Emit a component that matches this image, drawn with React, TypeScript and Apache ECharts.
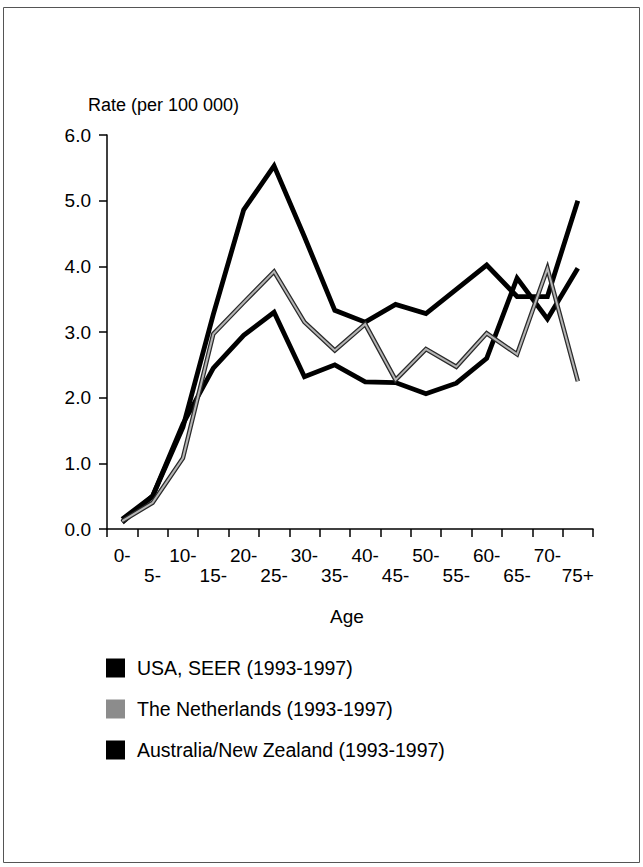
import React, { useEffect, useRef } from "react";
import * as echarts from "echarts";

const ageGroups = ["0-", "5-", "10-", "15-", "20-", "25-", "30-", "35-", "40-", "45-", "50-", "55-", "60-", "65-", "70-", "75+"];
const usaSeer = [0.15, 0.5, 1.55, 3.27, 4.86, 5.53, 4.45, 3.33, 3.15, 3.42, 3.28, 3.65, 4.02, 3.54, 3.54, 5.0];
const netherlands = [0.12, 0.4, 1.08, 2.97, 3.45, 3.92, 3.15, 2.72, 3.12, 2.27, 2.74, 2.47, 2.98, 2.66, 3.97, 2.25];
const ausNz = [0.1, 0.5, 1.6, 2.45, 2.95, 3.3, 2.32, 2.5, 2.24, 2.23, 2.06, 2.22, 2.6, 3.82, 3.2, 3.97];
const yTicks = [0, 1, 2, 3, 4, 5, 6];

const NAMES = ["USA, SEER (1993-1997)", "The Netherlands (1993-1997)", "Australia/New Zealand (1993-1997)"];
const FONT = "Liberation Sans, Arial, Helvetica, sans-serif";

export default function App() {
  const ref = useRef<HTMLDivElement>(null);
  useEffect(() => {
    if (!ref.current) return;
    const chart = echarts.init(ref.current, null, { renderer: "svg" });
    chart.setOption({
      animation: false,
      backgroundColor: "#ffffff",
      textStyle: { fontFamily: FONT, color: "#000" },
      grid: { left: 107, top: 135, width: 486, height: 394, containLabel: false },
      legend: {
        data: NAMES.map((n, i) => ({ name: n, icon: "rect", itemStyle: { color: i === 1 ? "#8c8c8c" : "#000" } })),
        orient: "vertical",
        left: 101,
        top: 653,
        itemWidth: 19,
        itemHeight: 19,
        itemGap: 21,
        selectedMode: false,
        textStyle: { fontSize: 19.5, lineHeight: 19, color: "#000", fontFamily: FONT, padding: [0, 0, 0, 7] },
      },
      xAxis: {
        type: "category",
        data: ageGroups,
        boundaryGap: true,
        axisLine: { lineStyle: { color: "#000", width: 1.5 } },
        axisTick: { show: true, length: 8, inside: false, lineStyle: { color: "#000", width: 1.5 } },
        axisLabel: {
          interval: 0,
          fontSize: 19,
          color: "#000",
          margin: 16,
          lineHeight: 20,
          fontFamily: FONT,
          formatter: (v: string, i: number) => (i % 2 === 1 ? "\n" + v : v),
        },
        splitLine: { show: false },
      },
      yAxis: {
        type: "value",
        min: yTicks[0],
        max: yTicks[yTicks.length - 1],
        interval: 1,
        axisLine: { show: true, lineStyle: { color: "#000", width: 1.5 } },
        axisTick: { show: true, length: 8, inside: false, lineStyle: { color: "#000", width: 1.5 } },
        axisLabel: { fontSize: 19, color: "#000", margin: 16, fontFamily: FONT, formatter: (v: number) => v.toFixed(1) },
        splitLine: { show: false },
      },
      graphic: [
        { type: "rect", shape: { x: 3.5, y: 7.5, width: 636, height: 855 }, style: { fill: "none", stroke: "#555", lineWidth: 1 }, silent: true },
        { type: "text", left: 88, top: 96, style: { text: "Rate (per 100 000)", fontSize: 18, fill: "#000", fontFamily: FONT } },
        { type: "text", x: 347, y: 616, style: { text: "Age", fontSize: 19, fill: "#000", fontFamily: FONT, align: "center", verticalAlign: "middle" } },
      ],
      series: [
        {
          name: NAMES[0],
          type: "line",
          data: usaSeer,
          symbol: "none",
          z: 3,
          lineStyle: { color: "#000", width: 4.8, join: "miter" },
          itemStyle: { color: "#000" },
        },
        {
          name: NAMES[2],
          type: "line",
          data: ausNz,
          symbol: "none",
          z: 3,
          lineStyle: { color: "#000", width: 4.8, join: "miter" },
          itemStyle: { color: "#000" },
        },
        {
          name: "nl-outline",
          type: "line",
          data: netherlands,
          symbol: "none",
          z: 4,
          silent: true,
          lineStyle: { color: "#2a2a2a", width: 4.5, join: "miter" },
          itemStyle: { color: "#2a2a2a" },
        },
        {
          name: NAMES[1],
          type: "line",
          data: netherlands,
          symbol: "none",
          z: 5,
          lineStyle: { color: "#b5b5b5", width: 2, join: "miter" },
          itemStyle: { color: "#8c8c8c" },
        },
      ],
    });
    return () => chart.dispose();
  }, []);
  return <div ref={ref} style={{ position: "fixed", left: 0, top: 0, width: 643, height: 867 }} />;
}
